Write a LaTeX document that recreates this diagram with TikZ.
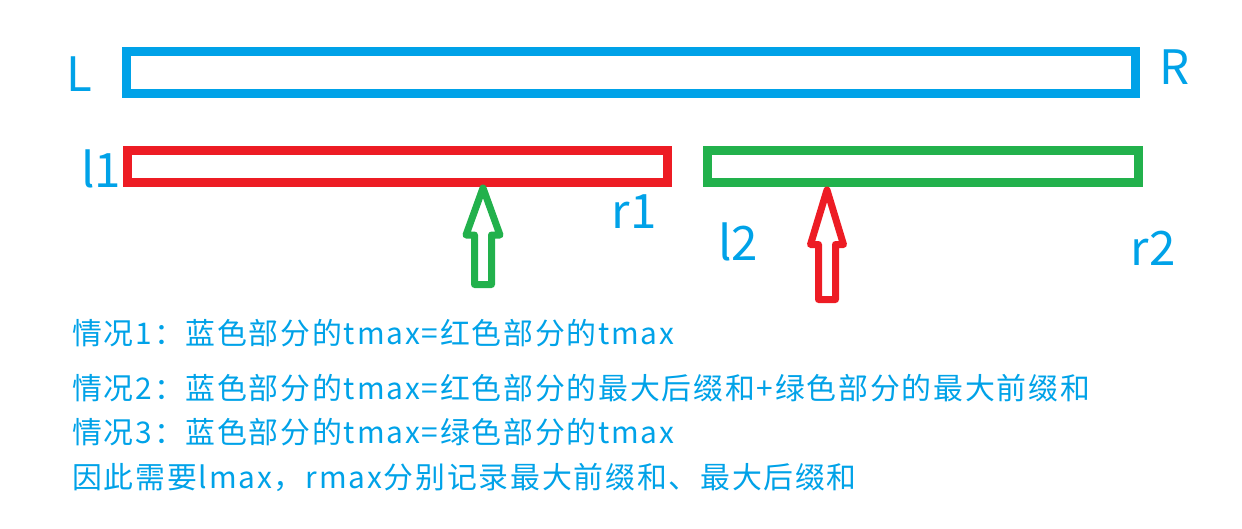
\documentclass[tikz,border=0pt]{standalone}
\usepackage{fontspec}
\newfontfamily\cjk{Noto Sans CJK SC}
\newfontfamily\cjkwide[LetterSpace=6]{Noto Sans CJK SC}
\usetikzlibrary{positioning}

\definecolor{paintblue}{RGB}{0,162,232}
\definecolor{paintred}{RGB}{237,28,36}
\definecolor{paintgreen}{RGB}{34,177,76}

\begin{document}
\begin{tikzpicture}[
  x=0.02cm, y=-0.02cm,
  bar/.style={draw=#1, line width=0.18cm, inner sep=0pt},
  blockarrow/.style={draw=#1, line width=0.14cm, line join=round},
  lab/.style={text=paintblue, font=\cjk\fontsize{27}{27}\selectfont, inner sep=0pt},
  note/.style={text=paintblue, font=\cjkwide\fontsize{17}{17}\selectfont,
               inner sep=0pt, anchor=west}
]
  \useasboundingbox (0,0) rectangle (1242,528);

  % the three intervals
  \node[bar=paintblue, minimum width=20.18cm, minimum height=0.84cm] (whole) at (631,72.5) {};
  \node[bar=paintred, minimum width=10.8cm, minimum height=0.64cm] (left) at (397.5,166.5) {};
  \node[bar=paintgreen, minimum width=8.62cm, minimum height=0.64cm] (right) at (923,166.5) {};

  \node[lab] (L)  at (79,74.5)  {L};
  \node[lab] (R)  at (1175,67.5) {R};
  \node[lab] (l1) at (101,168.5) {l1};
  \node[lab] (r1) at (634,212)  {r1};
  \node[lab] (l2) at (738,242)  {l2};
  \node[lab] (r2) at (1153,248) {r2};

  % block arrows under the split
  \draw[blockarrow=paintgreen] (483,188) -- (500,235) -- (491.5,235) -- (491.5,284.5)
    -- (474.5,284.5) -- (474.5,235) -- (466,235) -- cycle;
  \draw[blockarrow=paintred] (827,190) -- (843.5,244.5) -- (835.5,244.5) -- (835.5,299.5)
    -- (818.5,299.5) -- (818.5,244.5) -- (810.5,244.5) -- cycle;

  \node[note] (c1) at (72,333) {情况1：蓝色部分的tmax=红色部分的tmax};
  \node[note] (c2) at (72,388) {情况2：蓝色部分的tmax=红色部分的最大后缀和+绿色部分的最大前缀和};
  \node[note] (c3) at (72,432) {情况3：蓝色部分的tmax=绿色部分的tmax};
  \node[note] (c4) at (72,477) {因此需要lmax，rmax分别记录最大前缀和、最大后缀和};
\end{tikzpicture}
\end{document}
